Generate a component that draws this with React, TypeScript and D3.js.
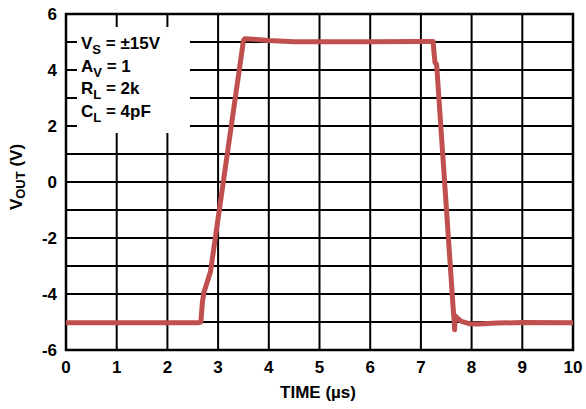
import React from "react";
import * as d3 from "d3";

const xTicks = [0, 1, 2, 3, 4, 5, 6, 7, 8, 9, 10];
const yGrid = [-6, -5, -4, -3, -2, -1, 0, 1, 2, 3, 4, 5, 6];
const yTickLabels = [-6, -4, -2, 0, 2, 4, 6];

// time (µs)
const timeUs = [
  0, 1, 2, 2.6, 2.66, 2.69, 2.72, 2.85, 3.0, 3.5, 3.53, 3.7, 4.0, 4.5, 5, 6, 7, 7.24,
  7.26, 7.28, 7.31, 7.64, 7.66, 7.665, 7.675, 7.72, 7.8, 7.95, 8.15, 8.5, 9, 10,
];
// output voltage (V)
const vOut = [
  -5.03, -5.03, -5.03, -5.03, -5.0, -4.3, -3.95, -3.2, -1.3, 5.05, 5.12, 5.1, 5.05, 5.01, 5.01, 5.01, 5.02, 5.02,
  4.6, 4.25, 4.2, -4.6, -5.05, -5.28, -4.78, -4.86, -4.98, -5.06, -5.07, -5.04, -5.02, -5.03,
];

const annotations = [
  { main: "V", sub: "S", rest: " = ±15V" },
  { main: "A", sub: "V", rest: " = 1" },
  { main: "R", sub: "L", rest: " = 2k" },
  { main: "C", sub: "L", rest: " = 4pF" },
];

export default function App() {
  const W = 586, H = 409;
  const x = d3.scaleLinear().domain([0, 10]).range([66, 573]);
  const y = d3.scaleLinear().domain([-6, 6]).range([350, 14]);
  const line = d3
    .line<number>()
    .x((_, i) => x(timeUs[i]))
    .y((d) => y(d))
    .curve(d3.curveLinear);
  const font = "'Liberation Sans', Arial, sans-serif";
  const red = "#c0504d";
  const fs = 17;
  return (
    <svg
      width={W}
      height={H}
      style={{ position: "absolute", left: 0, top: 0, background: "#fff" }}
      fontFamily={font}
      fontWeight="bold"
    >
      <rect x={0} y={0} width={W} height={H} fill="#fff" />
      {xTicks.map((t) => (
        <line key={"vx" + t} x1={x(t)} x2={x(t)} y1={y(-6)} y2={y(6)} stroke="#000" strokeWidth={2} />
      ))}
      {yGrid.map((t) => (
        <line key={"hy" + t} x1={x(0)} x2={x(10)} y1={y(t)} y2={y(t)} stroke="#000" strokeWidth={2} />
      ))}
      <rect x={77} y={27} width={113} height={106} fill="#fff" />
      <rect x={x(0)} y={y(6)} width={x(10) - x(0)} height={y(-6) - y(6)} fill="none" stroke="#000" strokeWidth={2.5} />
      <path d={line(vOut) || ""} fill="none" stroke={red} strokeWidth={5} strokeLinejoin="round" strokeLinecap="butt" />
      {annotations.map((a, i) => (
        <text key={i} x={81} y={49 + i * 22.7} fontSize={fs} fill="#000">
          {a.main}
          <tspan dy={5} fontSize={13}>{a.sub}</tspan>
          <tspan dy={-5}>{a.rest}</tspan>
        </text>
      ))}
      {yTickLabels.map((t) => (
        <text key={"yl" + t} x={57} y={y(t)} dy="0.36em" textAnchor="end" fontSize={fs} fill="#000">
          {t}
        </text>
      ))}
      {xTicks.map((t) => (
        <text key={"xl" + t} x={x(t)} y={373} textAnchor="middle" fontSize={fs} fill="#000">
          {t}
        </text>
      ))}
      <text x={318} y={398} textAnchor="middle" fontSize={fs} fill="#000">
        TIME (µs)
      </text>
      <text transform={`translate(22, 177) rotate(-90)`} textAnchor="middle" fontSize={fs} fill="#000">
        V<tspan dy={3} fontSize={13}>OUT</tspan>
        <tspan dy={-3}> (V)</tspan>
      </text>
    </svg>
  );
}
